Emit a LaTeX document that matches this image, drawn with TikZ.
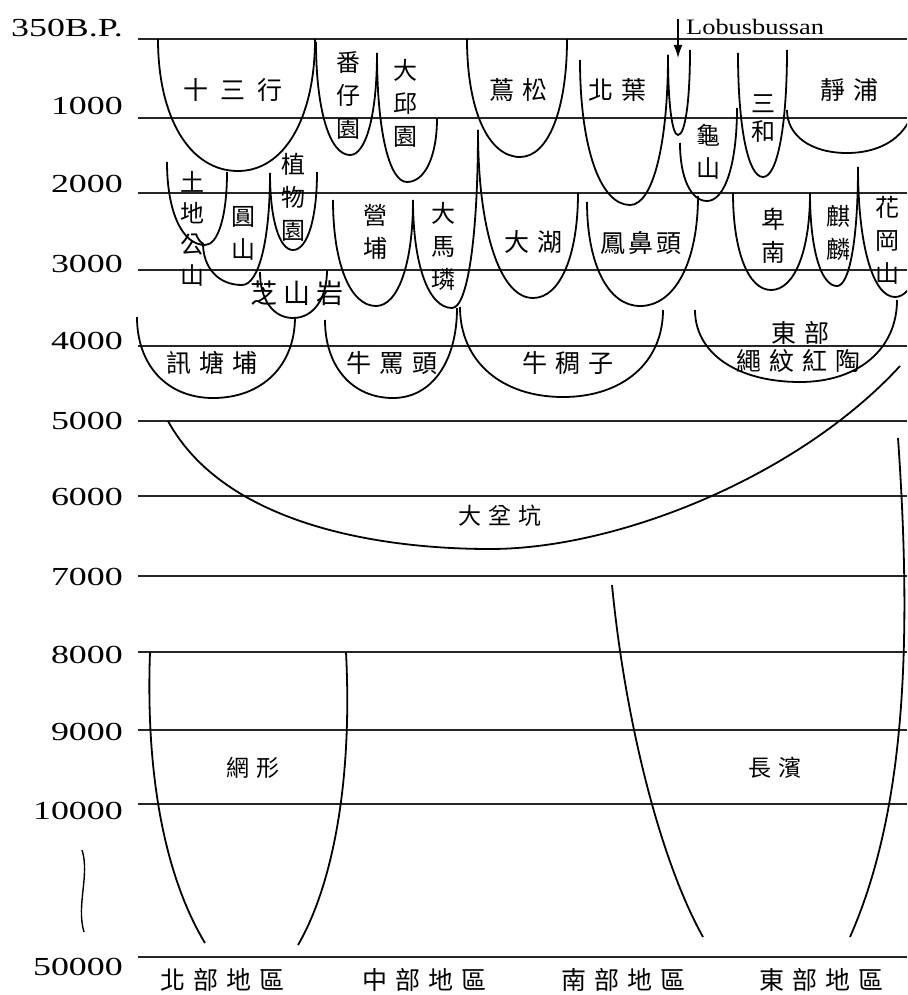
\documentclass[tikz,border=0pt]{standalone}
\usepackage{fontspec}
\setmainfont{Liberation Serif}
\newfontfamily\cjk{Noto Sans CJK TC}
\usetikzlibrary{arrows.meta}

\newcommand{\gp}{\hspace{8pt}}
\newcommand{\wide}[1]{\scalebox{1.38}[1]{#1}}

\tikzset{
  hline/.style={line width=1.8pt, black!85},
  rim/.style={line width=1.8pt},
  yr/.style={anchor=east, inner sep=0pt, font=\fontsize{26}{28}\selectfont},
  site/.style={inner sep=0pt, font=\cjk\fontsize{25}{27}\selectfont},
  vsite/.style={inner sep=0pt, align=center, font=\cjk\fontsize{24}{33}\selectfont},
}

\begin{document}
\begin{tikzpicture}[x=1pt,y=-1pt]
  \useasboundingbox (0,0) rectangle (907,995);
  \clip (0,0) rectangle (907,995);

  % time lines and years
  \foreach \y in {39,118,193,270,346,421,496,576,652,730,804,957}{
      \draw[hline] (138,\y) -- (907,\y);
  }
  \foreach \y/\t [count=\i] in {28/350B.P., 106/1000, 184/2000, 264/3000, 341/4000, 421/5000,
      497/6000, 577/7000, 655/8000, 732/9000, 811/10000, 967/50000}{
      \node[yr] (yr\i) at (123,\y) {\wide{\t}};
  }
  \draw[line width=1.4pt] (82,850) .. controls (90,875) and (76,905) .. (84,932);

  % cultures: left top / bottom / right top
  \foreach \a/\b/\c/\d/\e/\f in {158/39/238/171/315/39, 316/42/350/155/377/53, 377/53/407/182/437/118,
      467/39/520/157/567/39, 580/60/630/205/668/55, 668/55/678/135/690/50, 680/143/707/201/737/108,
      738/53/763/177/787/50, 787/110/847/153/915/95,
      167/162/205/245/227/172, 203/243/242/285/270/173, 270/173/293/250/317/172, 260/272/293/318/327/270,
      333/200/376/306/413/200, 413/200/452/308/478/130, 478/130/533/298/578/193, 587/202/640/306/698/196,
      733/193/771/290/810/193, 810/193/837/286/858/167, 858/167/895/297/925/210,
      137/317/213/398/295/317, 325/320/393/398/457/308, 460/307/563/397/663/310, 695/310/800/382/897/300}{
      \draw[rim] (\a,\b) .. controls (\a,{\b+0.6*(\d-\b)}) and ({\c-0.6*(\c-\a)},\d) .. (\c,\d)
          .. controls ({\c+0.6*(\e-\c)},\d) and (\e,{\f+0.6*(\d-\f)}) .. (\e,\f);
  }
  \draw[rim] (168,421) .. controls (225,525) and (380,549) .. (490,549)
      .. controls (620,549) and (800,475) .. (900,366);
  \draw[rim] (150,652) .. controls (145,790) and (170,885) .. (205,943);
  \draw[rim] (346,652) .. controls (353,790) and (330,890) .. (298,945);
  \draw[rim] (612,585) .. controls (625,720) and (660,860) .. (703,937);
  \draw[rim] (898,438) .. controls (912,640) and (906,810) .. (850,937);

  % Lobusbussan
  \node[anchor=west, inner sep=0pt, font=\fontsize{22}{24}\selectfont] (lobus) at (686,27)
      {\scalebox{1.2}[1]{Lobusbussan}};
  \coordinate (lobustop) at (678,19);
  \coordinate (lobusend) at (678,58);
  \draw[line width=1.4pt, -{Latex[length=13pt,width=9pt]}] (lobustop) -- (lobusend);

  % site names
  \node[site] (shisanhang) at (233,90) {十\hspace{12pt}三\hspace{12pt}行};
  \node[vsite] (fanziyuan) at (348,95) {番\\仔\\園};
  \node[vsite] (dachiuyuan) at (405,103) {大\\邱\\園};
  \node[site] (niaosong) at (518,90) {蔦\gp 松};
  \node[site] (beiye) at (617,90) {北\gp 葉};
  \node[vsite] (guishan) at (708,152) {龜\\山};
  \node[vsite] (sanhe) at (763,119) {三\\[-5pt]和};
  \node[site] (jingpu) at (849,90) {靜\gp 浦};
  \node[vsite] (tudigong) at (192,229) {土\\[-2pt]地\\[-2pt]公\\[-2pt]山};
  \node[vsite] (yuanshan) at (243,233) {圓\\山};
  \node[vsite] (zhiwuyuan) at (293,197) {植\\物\\園};
  \node[site, font=\cjk\fontsize{27}{29}\selectfont] (zhishanyan) at (297,293) {芝\hspace{6pt}山\hspace{6pt}岩};
  \node[vsite] (yingpu) at (375,232) {營\\埔};
  \node[vsite] (damalin) at (443,246) {大\\馬\\璘};
  \node[site] (dahu) at (533,242) {大\gp 湖};
  \node[site] (fengbitou) at (641,243) {鳳\hspace{3pt}鼻\hspace{3pt}頭};
  \node[vsite] (beinan) at (773,236) {卑\\南};
  \node[vsite] (qilin) at (838,233) {麒\\麟};
  \node[vsite] (huagang) at (887,240) {花\\岡\\山};
  \node[site] (xuntangpu) at (212,363) {訊\gp 塘\gp 埔};
  \node[site] (niumatou) at (392,363) {牛\gp 罵\gp 頭};
  \node[site] (niuchouzi) at (568,363) {牛\gp 稠\gp 子};
  \node[site] (dongbu) at (800,333) {東\gp 部};
  \node[site] (shengwen) at (798,361) {繩\gp 紋\gp 紅\gp 陶};
  \node[site, font=\cjk\fontsize{23}{25}\selectfont] (dapenkeng) at (500,516) {大\hspace{7pt}坌\hspace{7pt}坑};
  \node[site, font=\cjk\fontsize{23}{25}\selectfont] (wangxing) at (253,768) {網\hspace{7pt}形};
  \node[site, font=\cjk\fontsize{23}{25}\selectfont] (changbin) at (775,768) {長\hspace{7pt}濱};

  % regions
  \node[site] (north) at (222,980) {北\gp 部\gp 地\gp 區};
  \node[site] (central) at (424,980) {中\gp 部\gp 地\gp 區};
  \node[site] (south) at (623,980) {南\gp 部\gp 地\gp 區};
  \node[site] (east) at (821,980) {東\gp 部\gp 地\gp 區};
\end{tikzpicture}
\end{document}
